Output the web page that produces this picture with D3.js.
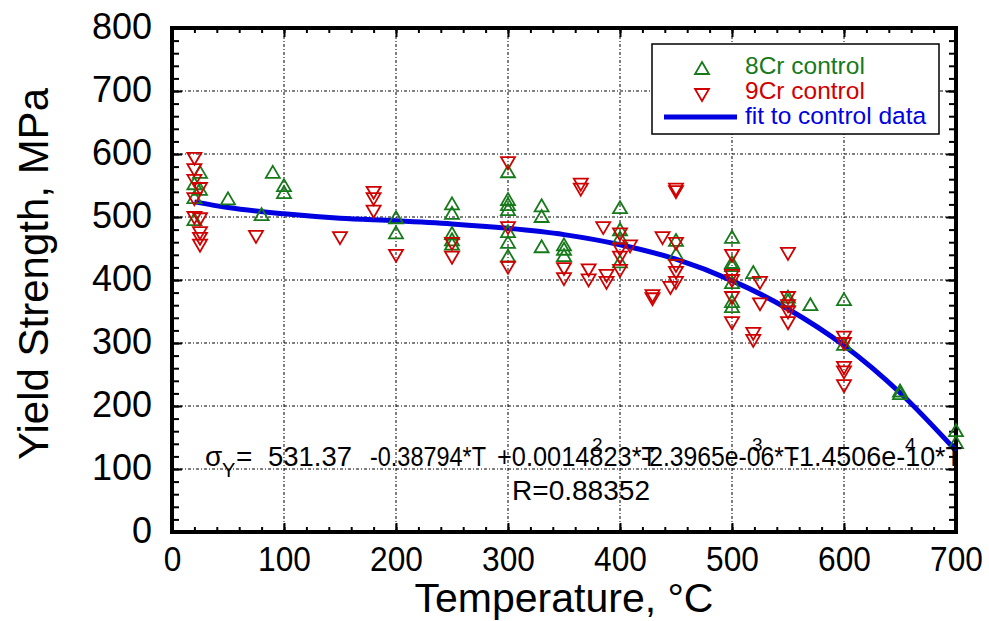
<!DOCTYPE html>
<html><head><meta charset="utf-8">
<script src="https://cdn.jsdelivr.net/npm/d3@7"></script>
<style>
body{margin:0;background:#fff}
svg{display:block;font-family:"Liberation Sans",Arial,Helvetica,sans-serif}
</style>
</head><body>
<svg id="chart" width="989" height="621"></svg>
<script>
// ---------------- data ----------------
const xTickValues = [0, 100, 200, 300, 400, 500, 600, 700];
const yTickValues = [0, 100, 200, 300, 400, 500, 600, 700, 800];

// 8Cr control (green, up triangles)
const cr8T = [20, 20, 20, 25, 25, 50, 80, 90, 100, 100, 200, 200,
  250, 250, 250, 250, 250, 300, 300, 300, 300, 300, 300, 300,
  330, 330, 330, 350, 350, 350, 400, 400, 400, 400,
  450, 450, 500, 500, 500, 500, 500, 500, 519, 550, 550, 570,
  600, 600, 650, 650, 700, 700];
const cr8Y = [552, 530, 495, 570, 543, 528, 503, 570, 549, 538, 498, 474,
  520, 505, 473, 463, 456, 571, 527, 519, 511, 476, 459, 437,
  517, 500, 452, 455, 448, 438, 514, 479, 466, 428,
  462, 440, 467, 427, 422, 395, 365, 357, 411, 372, 366, 360,
  368, 297, 223, 219, 160, 141];

// 9Cr control (red, down triangles)
const cr9T = [20, 20, 20, 25, 20, 20, 25, 25, 25, 25, 75, 150, 180, 180, 180, 200,
  250, 250, 300, 300, 300, 350, 350, 365, 365, 372, 372, 385, 388, 388,
  400, 400, 400, 400, 409, 429, 429, 438, 445,
  450, 450, 450, 450, 450, 450, 500, 500, 500, 500, 500,
  519, 519, 525, 525, 550, 550, 550, 550, 550, 600, 600, 600, 600, 600];
const cr9Y = [594, 576, 559, 546, 530, 500, 498, 476, 467, 456, 470, 468, 540, 530, 510, 440,
  459, 437, 587, 484, 421, 419, 403, 553, 545, 417, 401, 484, 408, 397,
  474, 450, 437, 416, 455, 376, 371, 468, 389,
  545, 541, 459, 424, 413, 397, 440, 408, 400, 373, 333,
  316, 305, 397, 363, 443, 373, 360, 350, 333, 310, 300, 262, 255, 233];

// fit to control data
const fitT = [20, 50, 100, 150, 200, 250, 300, 350, 400, 450, 500, 550, 600, 650, 700];
const fitY = [524, 515, 505, 498, 494, 489, 482, 472, 456, 433, 399, 354, 296, 221, 129];

const legendLabels = ["8Cr control", "9Cr control", "fit to control data"];
const equationParts = ["531.37", "-0.38794*T", "+0.0014823*T", "-2.3965e-06*T", "-1.4506e-10*T"];
const superscripts = ["2", "3", "4"];
const rText = "R=0.88352";

// ---------------- layout ----------------
const svg = d3.select("#chart");
const L = 172, R = 956, T = 28, B = 532;
const x = d3.scaleLinear().domain([0, 700]).range([L, R]);
const y = d3.scaleLinear().domain([0, 800]).range([B, T]);

const GREEN = "#167a1a", RED = "#d00000", BLUE = "#0000e0";

// grid
const grid = svg.append("g").attr("stroke", "#000").attr("stroke-width", 1)
  .attr("stroke-dasharray", "3,2,1,2");
xTickValues.filter(v => v > 0 && v < 700).forEach(v => {
  grid.append("line").attr("x1", x(v)).attr("x2", x(v)).attr("y1", T).attr("y2", B);
});
yTickValues.filter(v => v > 0 && v < 800).forEach(v => {
  grid.append("line").attr("y1", y(v)).attr("y2", y(v)).attr("x1", L).attr("x2", R);
});

// ticks (inward) using d3 axes
function tickAxis(axisFn, scale, vals, size, tr) {
  const g = svg.append("g").attr("transform", tr)
    .call(axisFn(scale).tickValues(vals).tickSize(size).tickFormat(""));
  g.select(".domain").remove();
  g.selectAll(".tick line").attr("stroke", "#000").attr("stroke-width", 2);
  return g;
}
const xMinor = x.ticks(35), yMinor = y.ticks(40);
tickAxis(d3.axisBottom, x, xMinor, -5, `translate(0,${B})`);
tickAxis(d3.axisBottom, x, xTickValues, -9, `translate(0,${B})`);
tickAxis(d3.axisTop, x, xMinor, -5, `translate(0,${T})`);
tickAxis(d3.axisTop, x, xTickValues, -9, `translate(0,${T})`);
tickAxis(d3.axisLeft, y, yMinor, -7, `translate(${L},0)`);
tickAxis(d3.axisLeft, y, yTickValues, -10, `translate(${L},0)`);
tickAxis(d3.axisRight, y, yMinor, -7, `translate(${R},0)`);
tickAxis(d3.axisRight, y, yTickValues, -10, `translate(${R},0)`);

// tick labels
const xl = svg.append("g").attr("transform", `translate(0,${B})`)
  .call(d3.axisBottom(x).tickValues(xTickValues).tickSize(0).tickPadding(13));
xl.select(".domain").remove();
xl.selectAll("text").attr("font-size", 36).attr("fill", "#000")
  .attr("font-family", "Liberation Sans, Arial, sans-serif")
  .attr("transform", "scale(0.88,1)");

const yl = svg.append("g").attr("transform", `translate(${L},0)`)
  .call(d3.axisLeft(y).tickValues(yTickValues).tickSize(0).tickPadding(20));
yl.select(".domain").remove();
yl.selectAll("text").attr("font-size", 36).attr("fill", "#000")
  .attr("font-family", "Liberation Sans, Arial, sans-serif").attr("dy", "0.28em");

// frame
svg.append("rect").attr("x", L).attr("y", T).attr("width", R - L).attr("height", B - T)
  .attr("fill", "none").attr("stroke", "#000").attr("stroke-width", 4);

// fit line
const fitData = fitT.map((t, i) => [t, fitY[i]]);
svg.append("path").datum(fitData)
  .attr("d", d3.line().x(d => x(d[0])).y(d => y(d[1])).curve(d3.curveMonotoneX))
  .attr("fill", "none").attr("stroke", BLUE).attr("stroke-width", 5);

// markers
const up = "M0,-7L7,5L-7,5Z", down = "M0,7L7,-5L-7,-5Z";
svg.append("g").selectAll("path").data(cr8T.map((t, i) => [t, cr8Y[i]])).join("path")
  .attr("d", up).attr("transform", d => `translate(${x(d[0])},${y(d[1])})`)
  .attr("fill", "none").attr("stroke", GREEN).attr("stroke-width", 1.8);
svg.append("g").selectAll("path").data(cr9T.map((t, i) => [t, cr9Y[i]])).join("path")
  .attr("d", down).attr("transform", d => `translate(${x(d[0])},${y(d[1])})`)
  .attr("fill", "none").attr("stroke", RED).attr("stroke-width", 1.8);

// equation text (overlapping as in the original program output)
const eq = svg.append("g").attr("font-size", 28).attr("fill", "#000");
eq.append("text").attr("x", 205).attr("y", 466).text("σ");
eq.append("text").attr("x", 222).attr("y", 477).attr("font-size", 20).text("Y");
eq.append("text").attr("x", 236).attr("y", 466).text("=");
const eqX = [268, 370, 497, 641, 790];
const eqLen = [84, 116, 160, 158, 172];
equationParts.forEach((p, i) => {
  eq.append("text").attr("x", eqX[i]).attr("y", 466).text(p)
    .attr("textLength", eqLen[i]).attr("lengthAdjust", "spacingAndGlyphs");
});
const supX = [592, 752, 905];
superscripts.forEach((s, i) => eq.append("text").attr("x", supX[i]).attr("y", 451)
  .attr("font-size", 19).text(s));
eq.append("text").attr("x", 512).attr("y", 500).attr("textLength", 138)
  .attr("lengthAdjust", "spacingAndGlyphs").text(rText);

// legend
const lg = svg.append("g");
lg.append("rect").attr("x", 652).attr("y", 44).attr("width", 287).attr("height", 90)
  .attr("fill", "#fff").attr("stroke", "#000").attr("stroke-width", 1.5);
lg.append("path").attr("d", up).attr("transform", "translate(702,69)")
  .attr("fill", "none").attr("stroke", GREEN).attr("stroke-width", 1.8);
lg.append("path").attr("d", down).attr("transform", "translate(702,94)")
  .attr("fill", "none").attr("stroke", RED).attr("stroke-width", 1.8);
lg.append("line").attr("x1", 664).attr("x2", 737).attr("y1", 117).attr("y2", 117)
  .attr("stroke", BLUE).attr("stroke-width", 5);
const legCols = [GREEN, RED, BLUE], legY = [74, 99, 124];
legendLabels.forEach((l, i) => lg.append("text").attr("x", 745).attr("y", legY[i])
  .attr("font-size", 24.5).attr("fill", legCols[i]).text(l));

// axis titles
svg.append("text").attr("x", 564).attr("y", 612).attr("text-anchor", "middle")
  .attr("font-size", 41).text("Temperature, °C");
svg.append("text").attr("transform", "translate(48,274) rotate(-90)").attr("text-anchor", "middle")
  .attr("font-size", 42).text("Yield Strength, MPa");
</script>
</body></html>
